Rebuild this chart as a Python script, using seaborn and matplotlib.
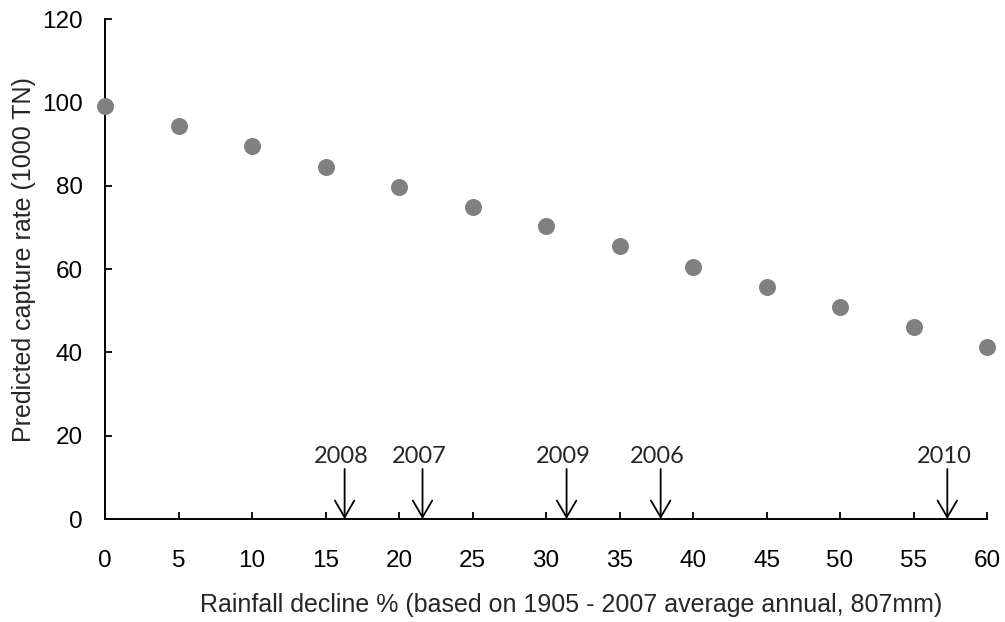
import numpy as np
import pandas as pd
import matplotlib
matplotlib.use("Agg")
import matplotlib.pyplot as plt
import seaborn as sns

# rainfall decline (%) and predicted capture rate (1000 TN)
decline = [0, 5, 10, 15, 20, 25, 30, 35, 40, 45, 50, 55, 60]
capture = [99.0, 94.2, 89.4, 84.6, 79.8, 75.0, 70.2, 65.4, 60.6, 55.8, 51.0, 46.2, 41.4]

# observed years marked with arrows on the x axis
years = ["2008", "2007", "2009", "2006", "2010"]
year_decline = [16.3, 21.6, 31.4, 37.8, 57.3]

df = pd.DataFrame({"decline": decline, "capture": capture})

sns.set_style("ticks")
plt.rcParams["font.family"] = ["Liberation Sans", "DejaVu Sans"]

fig = plt.figure(figsize=(10.05, 6.22), dpi=100)
ax = fig.add_axes([105 / 1005, 1 - 519 / 622, 882 / 1005, 500 / 622])

sns.scatterplot(data=df, x="decline", y="capture", ax=ax, color="#808080",
                s=150, linewidth=0, clip_on=False, zorder=3)

ax.set_xlim(0, 60)
ax.set_ylim(0, 120)
ax.set_xticks(np.arange(0, 61, 5))
ax.set_yticks(np.arange(0, 121, 20))
ax.tick_params(direction="in", length=5, width=1.3, labelsize=17.5, colors="black")
ax.tick_params(axis="x", pad=22)
ax.tick_params(axis="y", pad=16)
for side in ["left", "bottom"]:
    ax.spines[side].set_linewidth(1.4)
    ax.spines[side].set_color("black")
sns.despine(ax=ax, top=True, right=True)

ax.set_xlabel("Rainfall decline % (based on 1905 - 2007 average annual, 807mm)", fontsize=18)
ax.set_ylabel("Predicted capture rate (1000 TN)", fontsize=18)
ax.xaxis.set_label_coords(0.528, -0.148)
ax.yaxis.set_label_coords(-0.078, 0.518)

for yr, xv in zip(years, year_decline):
    ax.annotate("", xy=(xv, 0), xytext=(xv, 12),
                arrowprops=dict(arrowstyle="->,head_length=1.2,head_width=0.7",
                                mutation_scale=10, lw=1.3, color="black",
                                shrinkA=0, shrinkB=0),
                annotation_clip=False)
    ax.text(xv - 0.2, 14.9, yr, ha="center", va="center", fontsize=17,
            family=["Lato", "DejaVu Sans"])

fig.savefig("out.png", dpi=100)
